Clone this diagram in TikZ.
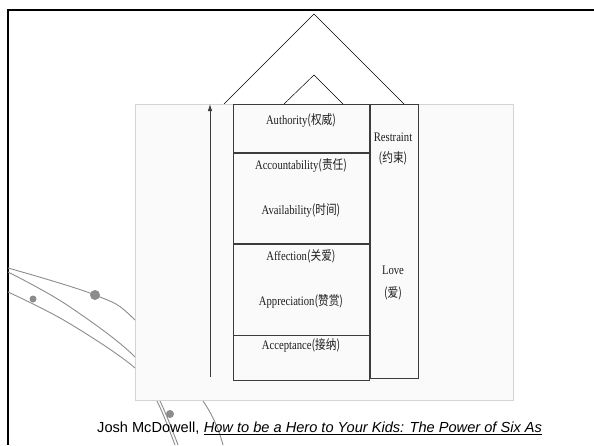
\documentclass[tikz,border=0pt]{standalone}
\usepackage{fontspec}
\setmainfont{Liberation Serif}
\newfontfamily\capfont{Liberation Sans}
\newfontfamily\cjk{Noto Sans CJK SC}
\usetikzlibrary{arrows,arrows.meta,positioning}

\definecolor{panelfill}{HTML}{FAFAFA}
\definecolor{panelline}{HTML}{D4D4D4}
\definecolor{boxline}{HTML}{3C3C3C}
\definecolor{wordcol}{HTML}{1E1E1E}
\definecolor{swooshgray}{HTML}{8C8C8C}

\newcommand{\zh}[1]{{\cjk #1}}

\begin{document}
\begin{tikzpicture}[x=1pt,y=-1pt]

\tikzstyle{cell} = [draw=boxline, line width=0.8pt, rectangle, anchor=north west, inner sep=0pt, minimum width=136pt]
\tikzstyle{word} = [text=wordcol, font=\fontsize{13}{15}\selectfont, xscale=0.82, inner sep=1pt]
\tikzstyle{roof} = [draw=black, line width=0.5pt]
\tikzstyle{swoosh} = [draw=swooshgray, line width=0.9pt]
\tikzstyle{dot} = [fill=swooshgray, circle, inner sep=0pt]
\tikzstyle{capt} = [text=black, font=\capfont\fontsize{14.6}{17}\selectfont, inner sep=0pt]

\useasboundingbox (0,0) rectangle (594,445);

%slide frame
\draw[line width=2pt] (594,10) -- (8,10) -- (8,445);

%swooshes
\draw[swoosh] plot[smooth, tension=0.6] coordinates {(8,268) (95,295) (135,320) (203,401) (223,445)};
\draw[swoosh] plot[smooth, tension=0.6] coordinates {(8,272) (67,305) (135,357) (160,401) (178,445)};
\draw[swoosh] plot[smooth, tension=0.6] coordinates {(8,292) (67,322) (135,368) (157,401) (175,445)};
\node[dot, minimum size=10pt] (bigdot) at (95,295) {};
\node[dot, minimum size=7pt] (smalldot) at (33,299) {};
\node[dot, minimum size=8pt] (lowdot) at (170,414) {};

%picture panel
\draw[draw=panelline, fill=panelfill, line width=0.8pt] (135,104) rectangle (513,400);

%roofs
\coordinate (outerpeak) at (314,14);
\coordinate (innerpeak) at (314,75);
\draw[roof] (224,104) -- (outerpeak) -- (404,104);
\draw[roof] (284,104) -- (innerpeak) -- (343,104);

%cells
\node[cell, minimum height=48pt] (authcell) at (233,104) {};
\node[cell, minimum height=90pt] (availcell) at (authcell.south west) {};
\node[cell, minimum height=91pt] (affectcell) at (availcell.south west) {};
\node[cell, minimum height=45pt] (acceptcell) at (affectcell.south west) {};
\node[cell, minimum width=48pt, minimum height=274pt] (limitcell) at (authcell.north east) {};

%words
\node[word] (authority) at (301,120) {Authority\zh{(权威)}};
\node[word] (accountability) at (301,165) {Accountability\zh{(责任)}};
\node[word] (availability) at (301,210) {Availability\zh{(时间)}};
\node[word] (affection) at (301,256) {Affection\zh{(关爱)}};
\node[word] (appreciation) at (301,301) {Appreciation\zh{(赞赏)}};
\node[word] (acceptance) at (301,345) {Acceptance\zh{(接纳)}};
\node[word] (restraint) at (393,137) {Restraint};
\node[word] (restraintzh) at (393,158) {\zh{(约束)}};
\node[word] (love) at (393,270) {Love};
\node[word] (lovezh) at (393,293) {\zh{(爱)}};

%arrow
\coordinate (arrowfoot) at (210,377);
\coordinate (arrowtip) at (210,104);
\path [draw=boxline, line width=0.8pt, -{Latex[length=7pt,width=4.5pt]}] (arrowfoot) -- (arrowtip);

%caption
\node[capt, anchor=base west] (author) at (97,432) {Josh McDowell,};
\node[capt, anchor=base west, font=\capfont\itshape\fontsize{14.6}{17}\selectfont] (booktitle) at ([xshift=4pt]author.base east) {How to be a Hero to Your Kids: The Power of Six As};
\draw[line width=1.3pt] ([yshift=-2.5pt]booktitle.base west) -- ([yshift=-2.5pt]booktitle.base east);
\end{tikzpicture}
\end{document}
